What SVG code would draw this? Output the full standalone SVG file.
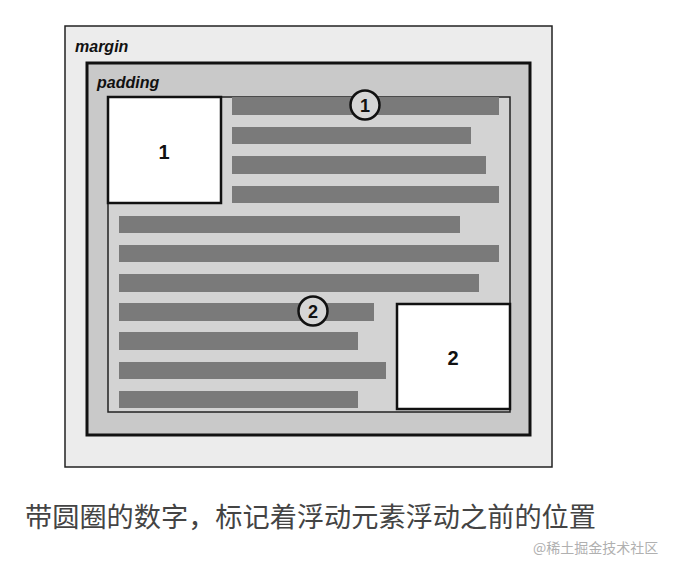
<svg xmlns="http://www.w3.org/2000/svg" width="678" height="563" viewBox="0 0 678 563">
<style>
.lbl{font-family:"Liberation Sans",Arial,sans-serif;font-weight:bold;font-style:italic;font-size:16px;fill:#111}
.num{font-family:"Liberation Sans",Arial,sans-serif;font-weight:bold;font-size:20px;fill:#111;text-anchor:middle}
.cnum{font-family:"Liberation Sans",Arial,sans-serif;font-weight:bold;font-size:18px;fill:#111;text-anchor:middle}
.bar{fill:#7a7a7a}
.circ{fill:#d6d6d6;stroke:#111;stroke-width:2.5}
.float{fill:#ffffff;stroke:#111;stroke-width:2.5}
.cap{font-family:"Noto Sans CJK SC","Noto Sans",sans-serif;font-size:27.2px;fill:#444}
.wm{font-family:"Noto Sans CJK SC","Noto Sans",sans-serif;font-size:14px;fill:#b0b0b0}
</style>
<rect width="678" height="563" fill="#ffffff"/>
<g id="margin-box">
<rect x="65" y="26" width="487" height="441" fill="#ececec" stroke="#222" stroke-width="1.5"/>
<text class="lbl" x="75" y="52">margin</text>
</g>
<g id="border-box">
<rect x="87" y="63" width="443" height="372" fill="#c9c9c9" stroke="#111" stroke-width="3"/>
<text class="lbl" x="97" y="88">padding</text>
</g>
<g id="content-box">
<rect x="108" y="97" width="402" height="315" fill="#d3d3d3" stroke="#222" stroke-width="1.5"/>
</g>
<g id="text-lines">
<rect class="bar" x="232" y="97" width="267" height="18"/>
<rect class="bar" x="232" y="127" width="239" height="17"/>
<rect class="bar" x="232" y="156" width="254" height="18"/>
<rect class="bar" x="232" y="186" width="267" height="17"/>
<rect class="bar" x="119" y="216" width="341" height="17"/>
<rect class="bar" x="119" y="245" width="380" height="17"/>
<rect class="bar" x="119" y="274" width="360" height="18"/>
<rect class="bar" x="119" y="303" width="255" height="18"/>
<rect class="bar" x="119" y="332" width="239" height="18"/>
<rect class="bar" x="119" y="362" width="267" height="17"/>
<rect class="bar" x="119" y="391" width="239" height="17"/>
</g>
<g id="float-1">
<rect class="float" x="108" y="97" width="113" height="106"/>
<text class="num" x="164" y="159">1</text>
</g>
<g id="float-2">
<rect class="float" x="397" y="304" width="113" height="105"/>
<text class="num" x="453" y="365">2</text>
</g>
<g id="marker-1">
<circle class="circ" cx="365" cy="105" r="14.5"/>
<text class="cnum" x="365" y="111.5">1</text>
</g>
<g id="marker-2">
<circle class="circ" cx="313" cy="311" r="14.5"/>
<text class="cnum" x="313" y="317.5">2</text>
</g>
<g id="connectors"></g>
<g id="caption">
<text class="cap" x="25" y="527">带圆圈的数字，标记着浮动元素浮动之前的位置</text>
<text class="wm" x="533" y="553">@稀土掘金技术社区</text>
</g>
</svg>
